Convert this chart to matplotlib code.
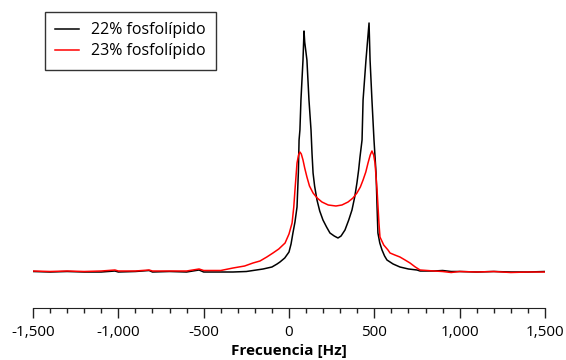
import matplotlib
matplotlib.use("Agg")
import matplotlib.pyplot as plt
from matplotlib.ticker import MultipleLocator, FuncFormatter

plt.rcParams['font.family'] = ['Open Sans', 'DejaVu Sans']

# espectro 22% fosfolipido (Hz, intensidad)
hz_22 = [-1500, -1400, -1300, -1200, -1100, -1020, -1000, -900, -820, -800, -700, -600, -527, -500,
         -400, -328, -250, -152, -100, -70, -53, -25, 0, 12, 23, 35, 47, 55, 59, 64, 70, 82, 88,
         92, 105, 117, 129, 135, 141, 150, 164, 180, 199, 220, 240, 265, 287, 305, 328, 350, 369,
         385, 398, 408, 416, 428, 434, 451, 469, 475, 486, 498, 510, 516, 521, 532, 545, 560, 574,
         610, 650, 700, 750, 768, 850, 900, 950, 1000, 1100, 1200, 1300, 1400, 1500]
int_22 = [0.5, 0, 0.5, 0, 0, 1, 0, 0.5, 1.5, 0, 0.5, 0, 2, 0,
          0, 0, 0.5, 3, 5, 8, 10, 14, 20, 28, 39, 50, 65, 100, 132, 142, 172, 212, 241,
          230, 212, 172, 142, 118, 99, 86, 72, 61, 52, 45, 39, 36, 34, 36, 42, 52, 62,
          75, 89, 102, 115, 132, 172, 212, 249, 212, 172, 132, 99, 65, 39, 29, 22, 16, 12,
          8, 5, 3, 2, 1, 1, 1.5, 0.5, 0.5, 0, 0.5, 0, 0, 0.5]

# espectro 23% fosfolipido (Hz, intensidad)
hz_23 = [-1500, -1400, -1300, -1200, -1100, -1020, -1000, -900, -820, -800, -700, -600, -527, -500,
         -400, -328, -260, -211, -170, -130, -94, -60, -23, 0, 18, 28, 35, 47, 56, 64, 72, 82, 92,
         105, 120, 141, 165, 193, 230, 275, 310, 346, 375, 398, 418, 434, 450, 463, 476, 486, 496,
         504, 516, 527, 533, 555, 580, 592, 620, 650, 680, 709, 740, 768, 850, 900, 950, 1000,
         1100, 1200, 1300, 1400, 1500]
int_23 = [1, 0.5, 1, 0.5, 1, 2, 1, 1, 2, 1, 1, 1, 3, 1.5,
          1.5, 4, 6, 9, 11, 15, 19, 23, 29, 38, 49, 65, 82, 109, 117, 120, 118, 112, 104,
          95, 86, 79, 74, 70, 67, 66, 67, 70, 74, 79, 85, 92, 100, 109, 117, 121, 117,
          109, 82, 49, 35, 27, 22, 19, 17, 15, 12, 9, 5, 2, 1, 0.5, -0.5, 0.5,
          0, 0.5, -0.5, 0, 0]

fig = plt.figure(figsize=(5.66, 3.6), dpi=100)
ax = fig.add_axes([33 / 566, (360 - 308) / 360, 512 / 566, 298 / 360])

ax.plot(hz_22, int_22, color='black', lw=1.1, label='22% fosfolípido')
ax.plot(hz_23, int_23, color='#ff0000', lw=1.1, label='23% fosfolípido')

ax.set_xlim(-1500, 1500)
ax.set_ylim(-36, 262)

for s in ['top', 'right', 'left']:
    ax.spines[s].set_visible(False)
ax.spines['bottom'].set_color('#222222')
ax.set_yticks([])

ax.xaxis.set_major_locator(MultipleLocator(500))
ax.xaxis.set_minor_locator(MultipleLocator(100))
ax.xaxis.set_major_formatter(FuncFormatter(lambda v, p: f'{int(v):,}'))
ax.tick_params(axis='x', which='major', length=7.5, width=1, color='#222222',
               labelsize=11, pad=5)
ax.tick_params(axis='x', which='minor', length=3.8, width=1, color='#222222')
ax.set_xlabel('Frecuencia [Hz]', fontsize=11, fontweight='bold', labelpad=2.5)

leg = ax.legend(loc='upper left', bbox_to_anchor=(12 / 512, 296 / 298), fontsize=11.5,
                frameon=True, fancybox=False, edgecolor='black', borderpad=0.65,
                borderaxespad=0, handlelength=1.45, handletextpad=0.75, labelspacing=0.3)
leg.get_frame().set_linewidth(1.0)

fig.savefig('out.png', dpi=100)
